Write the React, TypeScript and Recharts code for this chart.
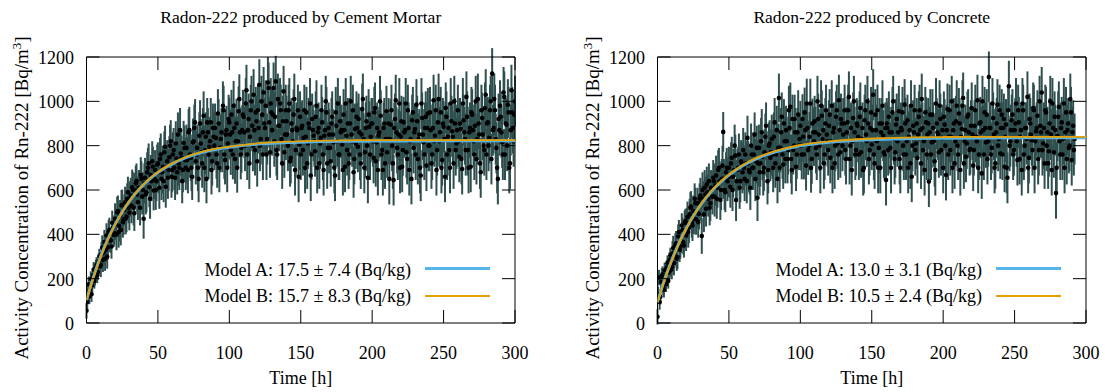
import React from "react";
import {
  ComposedChart,
  ErrorBar,
  Line,
  ReferenceLine,
  Scatter,
  XAxis,
  YAxis,
} from "recharts";

// sampling of the measurements (hours): full-hour readings plus half-hour readings
const STEP_H = 1;
const HALF_OFFSET_H = 0.5;

const X_TICKS = [0, 50, 100, 150, 200, 250, 300];
const Y_TICKS = [0, 200, 400, 600, 800, 1000, 1200];

// Cement mortar, t = 0, 1, ..., 300 h
const MORTAR_VALUES = [
  55, 140, 120, 198, 170, 240, 205, 262, 230, 300,
  262, 340, 318, 290, 395, 342, 420, 371, 452, 398,
  470, 398, 505, 438, 420, 532, 468, 545, 480, 590,
  498, 575, 612, 520, 598, 640, 545, 610, 668, 570,
  470, 655, 590, 700, 612, 668, 730, 598, 690, 640,
  720, 610, 760, 680, 640, 795, 700, 655, 748, 820,
  690, 780, 655, 742, 850, 700, 765, 640, 812, 735,
  790, 690, 870, 745, 660, 820, 905, 760, 700, 845,
  810, 720, 935, 780, 650, 860, 795, 905, 730, 840,
  880, 760, 945, 700, 830, 790, 960, 735, 870, 810,
  905, 780, 860, 980, 740, 900, 820, 1010, 760, 870,
  930, 800, 1050, 870, 720, 960, 890, 1030, 780, 910,
  960, 1075, 830, 940, 1040, 880, 760, 1085, 905, 990,
  870, 1060, 930, 780, 1010, 890, 960, 720, 1045, 850,
  910, 800, 990, 745, 870, 940, 690, 880, 960, 805,
  760, 890, 835, 700, 950, 810, 880, 665, 920, 845,
  775, 980, 860, 720, 835, 905, 690, 870, 950, 790,
  850, 730, 930, 815, 665, 890, 990, 760, 860, 805,
  940, 705, 845, 900, 760, 1000, 820, 680, 875, 930,
  795, 860, 720, 965, 830, 770, 910, 655, 885, 840,
  900, 745, 970, 815, 690, 860, 935, 780, 880, 720,
  955, 830, 650, 895, 800, 645, 920, 860, 760, 990,
  840, 705, 905, 870, 770, 960, 690, 830, 915, 790,
  875, 985, 740, 850, 665, 925, 815, 880, 710, 945,
  800, 870, 760, 1005, 845, 690, 905, 820, 950, 735,
  885, 660, 930, 840, 780, 990, 865, 720, 900, 810,
  960, 750, 875, 695, 915, 830, 1020, 780, 860, 705,
  940, 820, 890, 740, 1010, 850, 680, 925, 800, 970,
  760, 905, 835, 1000, 1125, 880, 960, 790, 650, 870,
  930, 815, 1040, 760, 895, 985, 700, 870, 950, 820,
  1000,
];
// Cement mortar, t = 0.5, 1.5, ..., 299.5 h
const MORTAR_VALUES_HALF = [
  95, 175, 150, 130, 215, 190, 250, 215, 280, 255,
  310, 285, 365, 330, 300, 410, 375, 345, 430, 405,
  445, 500, 410, 485, 530, 455, 510, 470, 560, 520,
  560, 530, 600, 495, 630, 580, 610, 520, 650, 600,
  630, 580, 680, 720, 560, 640, 705, 650, 600, 715,
  680, 740, 650, 705, 770, 615, 730, 690, 800, 660,
  760, 700, 810, 680, 720, 870, 745, 690, 790, 700,
  735, 860, 760, 700, 815, 880, 730, 790, 650, 900,
  770, 860, 700, 840, 905, 760, 820, 690, 880, 800,
  835, 720, 900, 790, 860, 980, 760, 850, 700, 920,
  850, 940, 760, 880, 820, 700, 955, 860, 790, 940,
  860, 990, 760, 920, 840, 1000, 800, 870, 950, 730,
  880, 800, 1000, 760, 900, 980, 830, 1060, 770, 950,
  940, 820, 1090, 760, 890, 990, 830, 910, 770, 960,
  850, 960, 730, 900, 820, 1010, 780, 870, 660, 930,
  880, 780, 960, 840, 720, 900, 990, 760, 870, 820,
  930, 700, 880, 810, 960, 760, 845, 1000, 720, 880,
  790, 900, 850, 700, 950, 820, 760, 910, 870, 690,
  870, 990, 780, 720, 900, 850, 960, 740, 810, 880,
  920, 760, 850, 1010, 700, 880, 800, 940, 760, 900,
  820, 950, 730, 880, 845, 1000, 760, 690, 900, 830,
  770, 900, 830, 960, 720, 880, 1005, 790, 850, 700,
  910, 780, 860, 990, 740, 880, 820, 650, 950, 860,
  760, 910, 830, 700, 990, 850, 760, 930, 880, 800,
  950, 720, 880, 820, 960, 780, 1010, 860, 700, 900,
  830, 970, 760, 880, 700, 910, 840, 1000, 780, 870,
  820, 900, 740, 990, 860, 780, 930, 700, 880, 950,
  870, 760, 1000, 830, 900, 720, 960, 850, 780, 1030,
  900, 800, 960, 740, 870, 1010, 830, 700, 920, 980,
  860, 760, 1020, 900, 800, 950, 720, 1050, 880, 940,
];
// uncertainty per 10 h block
const MORTAR_ERRORS = [
  35, 55, 70, 80, 90, 95, 100, 105, 110, 110, 112, 115, 115, 115, 115, 115,
  115, 115, 115, 115, 115, 115, 115, 115, 115, 115, 115, 115, 115, 115, 115,
];

// Concrete, t = 0, 1, ..., 292 h
const CONCRETE_VALUES = [
  28, 205, 118, 212, 160, 238, 175, 270, 228, 305,
  252, 338, 305, 360, 298, 410, 345, 440, 365, 452,
  395, 478, 430, 520, 455, 505, 560, 468, 540, 492,
  575, 392, 560, 610, 515, 590, 640, 540, 605, 655,
  570, 665, 610, 700, 555, 650, 862, 600, 680, 640,
  700, 615, 745, 660, 800, 555, 690, 760, 640, 720,
  780, 650, 720, 835, 690, 610, 760, 700, 850, 730,
  565, 790, 720, 860, 680, 770, 890, 640, 800, 745,
  830, 700, 905, 760, 650, 1015, 790, 930, 715, 820,
  870, 740, 960, 975, 690, 780, 920, 705, 860, 800,
  890, 760, 840, 950, 710, 880, 800, 990, 740, 860,
  910, 790, 1000, 850, 700, 935, 870, 760, 960, 820,
  890, 745, 980, 860, 720, 930, 810, 1005, 770, 900,
  850, 960, 740, 905, 1020, 800, 690, 925, 860, 780,
  890, 760, 970, 830, 690, 915, 850, 1000, 740, 880,
  805, 1030, 720, 870, 960, 790, 700, 900, 845, 760,
  645, 880, 930, 790, 860, 1000, 740, 895, 820, 955,
  700, 870, 800, 985, 760, 915, 840, 720, 660, 890,
  960, 810, 745, 930, 870, 1010, 780, 690, 905, 850,
  638, 940, 815, 880, 730, 990, 860, 770, 920, 835,
  700, 895, 668, 965, 840, 780, 1000, 870, 720, 910,
  800, 945, 690, 875, 1015, 820, 750, 930, 860, 785,
  970, 710, 890, 840, 1005, 760, 905, 675, 870, 950,
  815, 740, 1110, 880, 790, 925, 700, 860, 985, 830,
  765, 940, 880, 705, 895, 655, 1068, 820, 915, 760,
  870, 990, 735, 905, 840, 690, 960, 800, 880, 1020,
  745, 900, 825, 970, 700, 865, 935, 780, 890, 1040,
  810, 720, 950, 860, 775, 1000, 690, 880, 930, 586,
  845, 975, 760, 905, 830, 700, 950, 870, 790, 1010,
  735, 890, 830,
];
// Concrete, t = 0.5, 1.5, ..., 291.5 h
const CONCRETE_VALUES_HALF = [
  130, 95, 185, 220, 150, 200, 250, 190, 285, 240,
  315, 270, 350, 290, 390, 330, 370, 420, 350, 460,
  450, 410, 490, 525, 440, 470, 540, 500, 455, 560,
  540, 600, 490, 580, 625, 560, 520, 610, 570, 640,
  620, 560, 690, 640, 600, 710, 650, 590, 700, 660,
  660, 720, 600, 690, 755, 640, 700, 610, 730, 680,
  700, 760, 640, 720, 680, 800, 700, 760, 650, 790,
  720, 680, 820, 750, 700, 840, 760, 690, 810, 770,
  760, 840, 720, 870, 790, 700, 860, 760, 900, 740,
  820, 780, 880, 740, 920, 800, 860, 760, 940, 830,
  800, 920, 760, 870, 990, 780, 840, 700, 900, 820,
  860, 760, 920, 800, 980, 830, 720, 900, 850, 780,
  940, 820, 700, 880, 800, 960, 760, 870, 920, 800,
  900, 780, 860, 960, 740, 880, 820, 1000, 760, 900,
  840, 930, 770, 880, 700, 960, 820, 900, 780, 950,
  870, 760, 940, 820, 700, 900, 860, 980, 770, 880,
  900, 780, 860, 700, 950, 830, 770, 920, 860, 740,
  880, 950, 760, 900, 820, 700, 870, 980, 800, 860,
  780, 900, 850, 960, 720, 880, 820, 950, 760, 900,
  860, 760, 940, 820, 690, 900, 850, 980, 780, 870,
  930, 800, 870, 760, 960, 840, 700, 900, 820, 980,
  760, 900, 840, 980, 720, 870, 810, 940, 780, 890,
  850, 780, 960, 820, 700, 900, 860, 1000, 760, 880,
  940, 820, 880, 760, 990, 850, 720, 900, 800, 960,
  880, 760, 920, 840, 700, 960, 800, 870, 940, 780,
  900, 820, 960, 740, 870, 990, 760, 880, 830, 700,
  920, 850, 780, 960, 820, 880, 740, 1000, 860, 780,
  880, 960, 800, 720, 900, 850, 990, 770, 870, 700,
  930, 820, 880, 760, 990, 860, 740, 900, 800, 950,
  860, 780,
];
const CONCRETE_ERRORS = [
  35, 55, 70, 80, 90, 95, 100, 105, 110, 110, 112, 115, 115, 115, 115, 115,
  115, 115, 115, 115, 115, 115, 115, 115, 115, 115, 115, 115, 115, 115,
];

// fitted curves
const CURVE_T = [0, 5, 10, 15, 20, 25, 30, 35, 40, 45, 50, 60, 70, 80, 90, 100, 120, 140, 160, 180, 200, 250, 300];
const MORTAR_A = [104, 211, 302, 379, 445, 501, 549, 590, 624, 654, 679, 718, 747, 768, 783, 793, 807, 814, 818, 820, 821, 822, 822];
const MORTAR_B = [102, 208, 299, 377, 444, 501, 550, 591, 626, 656, 681, 720, 750, 771, 786, 796, 810, 818, 822, 824, 825, 825, 825];
const CONCRETE_A = [95, 197, 284, 360, 425, 482, 531, 573, 609, 640, 667, 711, 743, 767, 785, 799, 815, 824, 829, 832, 834, 836, 836];
const CONCRETE_B = [93, 194, 281, 358, 424, 482, 532, 575, 612, 643, 670, 714, 747, 771, 789, 803, 819, 829, 834, 837, 839, 840, 840];

const FONT = '"Liberation Serif", "DejaVu Serif", "Times New Roman", serif';
const BLUE = "#56b4e9";
const ORANGE = "#e69f00";
const BAR = "#2f4f4f";

const W = 550;
const H = 392;
const PLOT_TOP = 57;
const PLOT_BOTTOM = 323;
const PLOT_LEFT = 86.5;
const PLOT_RIGHT = 515;
const Y_AXIS_W = 60;
const X_AXIS_H = 40;
const TICK = 13;

const XTick = (props: any) => {
  const { x, payload } = props;
  return (
    <g>
      <line x1={x} x2={x} y1={PLOT_BOTTOM} y2={PLOT_BOTTOM - TICK} stroke="#000" />
      <line x1={x} x2={x} y1={PLOT_TOP} y2={PLOT_TOP + TICK} stroke="#000" />
      <text x={x} y={PLOT_BOTTOM + 36} textAnchor="middle" fontFamily={FONT} fontSize={18} fill="#000">
        {payload.value}
      </text>
    </g>
  );
};

const YTick = (props: any) => {
  const { y, payload } = props;
  return (
    <g>
      <line x1={PLOT_LEFT} x2={PLOT_LEFT + TICK} y1={y} y2={y} stroke="#000" />
      <line x1={PLOT_RIGHT - TICK} x2={PLOT_RIGHT} y1={y} y2={y} stroke="#000" />
      <text x={PLOT_LEFT - 12.5} y={y + 7} textAnchor="end" fontFamily={FONT} fontSize={18} fill="#000">
        {payload.value}
      </text>
    </g>
  );
};

const Dot = (props: any) => <circle cx={props.cx} cy={props.cy} r={2.3} fill="#000" />;
const NoDot = () => <g />;

type PanelProps = {
  title: string;
  values: number[];
  halfValues: number[];
  errors: number[];
  curveA: number[];
  curveB: number[];
  labelA: string;
  labelB: string;
};

const Panel = ({ title, values, halfValues, errors, curveA, curveB, labelA, labelB }: PanelProps) => {
  const toRow = (v: number, t: number) => ({ t, v, e: errors[Math.floor(t / 10)] });
  const points = [
    ...values.map((v, i) => toRow(v, i * STEP_H)),
    ...halfValues.map((v, i) => toRow(v, i * STEP_H + HALF_OFFSET_H)),
  ].sort((a, b) => a.t - b.t);
  const curve = CURVE_T.map((t, i) => ({ t, a: curveA[i], b: curveB[i] }));
  const midX = (PLOT_LEFT + PLOT_RIGHT) / 2;
  return (
    <div style={{ position: "relative", width: W, height: H }}>
      <ComposedChart
        width={W}
        height={H}
        margin={{ top: PLOT_TOP, right: W - PLOT_RIGHT, bottom: H - PLOT_BOTTOM - X_AXIS_H, left: PLOT_LEFT - Y_AXIS_W }}
      >
        <XAxis
          type="number"
          dataKey="t"
          domain={[0, 300]}
          ticks={X_TICKS}
          height={X_AXIS_H}
          tickSize={0}
          tickMargin={0}
          tickLine={false}
          axisLine={{ stroke: "#000" }}
          tick={<XTick />}
          allowDataOverflow
        />
        <YAxis
          type="number"
          domain={[0, 1200]}
          ticks={Y_TICKS}
          width={Y_AXIS_W}
          tickSize={0}
          tickMargin={0}
          tickLine={false}
          axisLine={{ stroke: "#000" }}
          tick={<YTick />}
          allowDataOverflow
        />
        <Scatter data={points} dataKey="v" shape={NoDot} isAnimationActive={false}>
          <ErrorBar dataKey="e" direction="y" width={0} stroke={BAR} strokeWidth={2} isAnimationActive={false} />
        </Scatter>
        <Scatter data={points} dataKey="v" shape={Dot} isAnimationActive={false} />
        <Line data={curve} dataKey="a" type="monotone" stroke={BLUE} strokeWidth={3} dot={false} isAnimationActive={false} zIndex={900} />
        <Line data={curve} dataKey="b" type="monotone" stroke={ORANGE} strokeWidth={1.8} dot={false} isAnimationActive={false} zIndex={901} />
        <ReferenceLine y={1200} stroke="#000" />
        <ReferenceLine x={300} stroke="#000" />
      </ComposedChart>
      <svg width={W} height={H} style={{ position: "absolute", left: 0, top: 0, pointerEvents: "none" }} fontFamily={FONT}>
        <text x={midX} y={23} textAnchor="middle" fontSize={17.5}>{title}</text>
        <text x={midX} y={384} textAnchor="middle" fontSize={18}>Time [h]</text>
        <text transform={`translate(${PLOT_LEFT - 58.5},198) rotate(-90)`} textAnchor="middle" fontSize={19}>
          <tspan>Activity Concentration of Rn-222 [Bq/m</tspan>
          <tspan dy={-7} fontSize={13}>3</tspan>
          <tspan dy={7}>]</tspan>
        </text>
        <text x={PLOT_RIGHT - 104} y={276} textAnchor="end" fontSize={18}>{labelA}</text>
        <line x1={PLOT_RIGHT - 90} x2={PLOT_RIGHT - 25} y1={268.5} y2={268.5} stroke={BLUE} strokeWidth={3} />
        <text x={PLOT_RIGHT - 104} y={302} textAnchor="end" fontSize={18}>{labelB}</text>
        <line x1={PLOT_RIGHT - 90} x2={PLOT_RIGHT - 25} y1={296} y2={296} stroke={ORANGE} strokeWidth={1.8} />
      </svg>
    </div>
  );
};

export default function App() {
  return (
    <div style={{ position: "absolute", left: 0, top: 0, width: 1105, height: 392, overflow: "hidden", background: "#fff" }}>
      <div style={{ position: "absolute", left: 0, top: 0 }}>
        <Panel
          title="Radon-222 produced by Cement Mortar"
          values={MORTAR_VALUES}
          halfValues={MORTAR_VALUES_HALF}
          errors={MORTAR_ERRORS}
          curveA={MORTAR_A}
          curveB={MORTAR_B}
          labelA="Model A: 17.5 ± 7.4 (Bq/kg)"
          labelB="Model B: 15.7 ± 8.3 (Bq/kg)"
        />
      </div>
      <div style={{ position: "absolute", left: 571, top: 0 }}>
        <Panel
          title="Radon-222 produced by Concrete"
          values={CONCRETE_VALUES}
          halfValues={CONCRETE_VALUES_HALF}
          errors={CONCRETE_ERRORS}
          curveA={CONCRETE_A}
          curveB={CONCRETE_B}
          labelA="Model A: 13.0 ± 3.1 (Bq/kg)"
          labelB="Model B: 10.5 ± 2.4 (Bq/kg)"
        />
      </div>
    </div>
  );
}
